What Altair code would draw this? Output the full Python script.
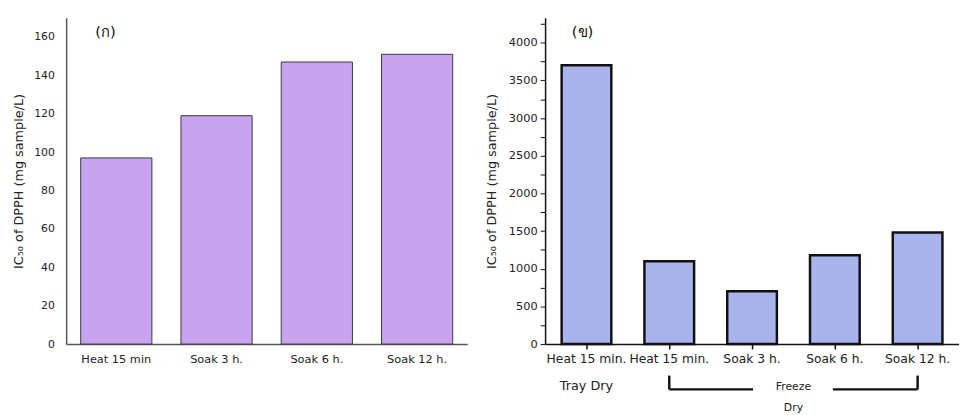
import altair as alt
import pandas as pd

# ---- data ----
cats_a = ["Heat 15 min", "Soak 3 h.", "Soak 6 h.", "Soak 12 h."]
vals_a = [97, 119, 147, 151]

keys_b = ["Tray|Heat 15 min.", "Freeze|Heat 15 min.", "Freeze|Soak 3 h.", "Freeze|Soak 6 h.", "Freeze|Soak 12 h."]
vals_b = [3700, 1100, 700, 1180, 1480]

ytitle = "IC₅₀ of DPPH (mg sample/L)"
FONT = "DejaVu Sans"

df_a = pd.DataFrame({"cat": cats_a, "val": vals_a})
df_b = pd.DataFrame({"cat": keys_b, "val": vals_b})

# ---- left panel ----
xa = alt.X("cat:N", sort=cats_a,
           scale=alt.Scale(paddingInner=0.29, paddingOuter=0.145),
           axis=alt.Axis(title=None, labelAngle=0, ticks=False, domainColor="#555",
                         domainWidth=1.5, labelFontSize=11.5, labelPadding=10,
                         labelColor="#222", labelFont=FONT))
ya = alt.Y("val:Q", scale=alt.Scale(domain=[0, 170], nice=False),
           axis=alt.Axis(values=list(range(0, 161, 20)), ticks=False, grid=False,
                         title=ytitle, titleFont=FONT, titleFontSize=13,
                         titleFontWeight="normal", titleColor="#222", titlePadding=8,
                         labelFont=FONT, labelFontSize=11, labelColor="#222",
                         labelPadding=12, domainColor="#555", domainWidth=1.5))

bars_a = alt.Chart(df_a).mark_bar(fill="#c8a3ef", stroke="#3a3a3a", strokeWidth=1).encode(x=xa, y=ya)
lab_a = alt.Chart(pd.DataFrame({"t": ["(ก)"]})).mark_text(
    font=FONT, fontSize=15, color="#111", align="center", baseline="middle"
).encode(text="t:N", x=alt.value(40), y=alt.value(14))

left = alt.layer(bars_a, lab_a).properties(width=407, height=331)

# ---- right panel ----
xb = alt.X("cat:N", sort=keys_b,
           scale=alt.Scale(paddingInner=0.4, paddingOuter=0.2),
           axis=alt.Axis(title=None, labelAngle=0, tickSize=5, tickColor="#111",
                         tickWidth=1.5, domainColor="#111", domainWidth=1.5,
                         labelExpr="split(datum.label, '|')[1]", labelFontSize=12.5,
                         labelPadding=4, labelColor="#222", labelFont=FONT))
yb = alt.Y("val:Q", scale=alt.Scale(domain=[0, 4330], nice=False),
           axis=alt.Axis(values=list(range(0, 4251, 250)), tickSize=5, tickColor="#111",
                         format="d",
                         labelExpr="datum.value % 500 == 0 ? datum.label : ''",
                         grid=False, title=ytitle, titleFont=FONT, titleFontSize=13,
                         titleFontWeight="normal", titleColor="#222", titlePadding=10,
                         labelFont=FONT, labelFontSize=11.5, labelColor="#222",
                         labelPadding=3, domainColor="#111", domainWidth=1.5))

bars_b = alt.Chart(df_b).mark_bar(fill="#a9b3ec", stroke="#111", strokeWidth=2.5).encode(x=xb, y=yb)
lab_b = alt.Chart(pd.DataFrame({"t": ["(ข)"]})).mark_text(
    font=FONT, fontSize=15, color="#111", align="center", baseline="middle"
).encode(text="t:N", x=alt.value(38), y=alt.value(14))

xcat = alt.X("cat:N", sort=keys_b)

tray = alt.Chart(pd.DataFrame({"cat": [keys_b[0]], "t": ["Tray Dry"]})).mark_text(
    font=FONT, fontSize=13, color="#222", baseline="middle"
).encode(x=xcat, text="t:N", y=alt.value(374))

freeze = alt.Chart(pd.DataFrame({"t": ["Freeze"]})).mark_text(
    font=FONT, fontSize=11, color="#222", baseline="middle"
).encode(text="t:N", x=alt.value(252), y=alt.value(375))
dry = alt.Chart(pd.DataFrame({"t": ["Dry"]})).mark_text(
    font=FONT, fontSize=11, color="#222", baseline="middle"
).encode(text="t:N", x=alt.value(252), y=alt.value(396))

vrules = alt.Chart(pd.DataFrame({"cat": [keys_b[1], keys_b[4]]})).mark_rule(
    color="#111", strokeWidth=2.5
).encode(x=xcat, y=alt.value(363), y2=alt.value(377))

hrule1 = alt.Chart(pd.DataFrame({"cat": [keys_b[1]]})).mark_rule(
    color="#111", strokeWidth=2.5
).encode(x=xcat, x2=alt.value(211), y=alt.value(377))
hrule2 = alt.Chart(pd.DataFrame({"cat": [keys_b[4]]})).mark_rule(
    color="#111", strokeWidth=2.5
).encode(x=xcat, x2=alt.value(292), y=alt.value(377))

right = alt.layer(bars_b, lab_b, tray, freeze, dry, vrules, hrule1, hrule2).properties(width=420, height=331)

chart = alt.hconcat(left, right, spacing=18).properties(
    padding={"left": 5, "top": 7, "right": 0, "bottom": 0}
).configure(background="white").configure_view(strokeWidth=0, stroke="transparent")

chart.save("out.html", embed_options={"renderer": "svg", "actions": False})
